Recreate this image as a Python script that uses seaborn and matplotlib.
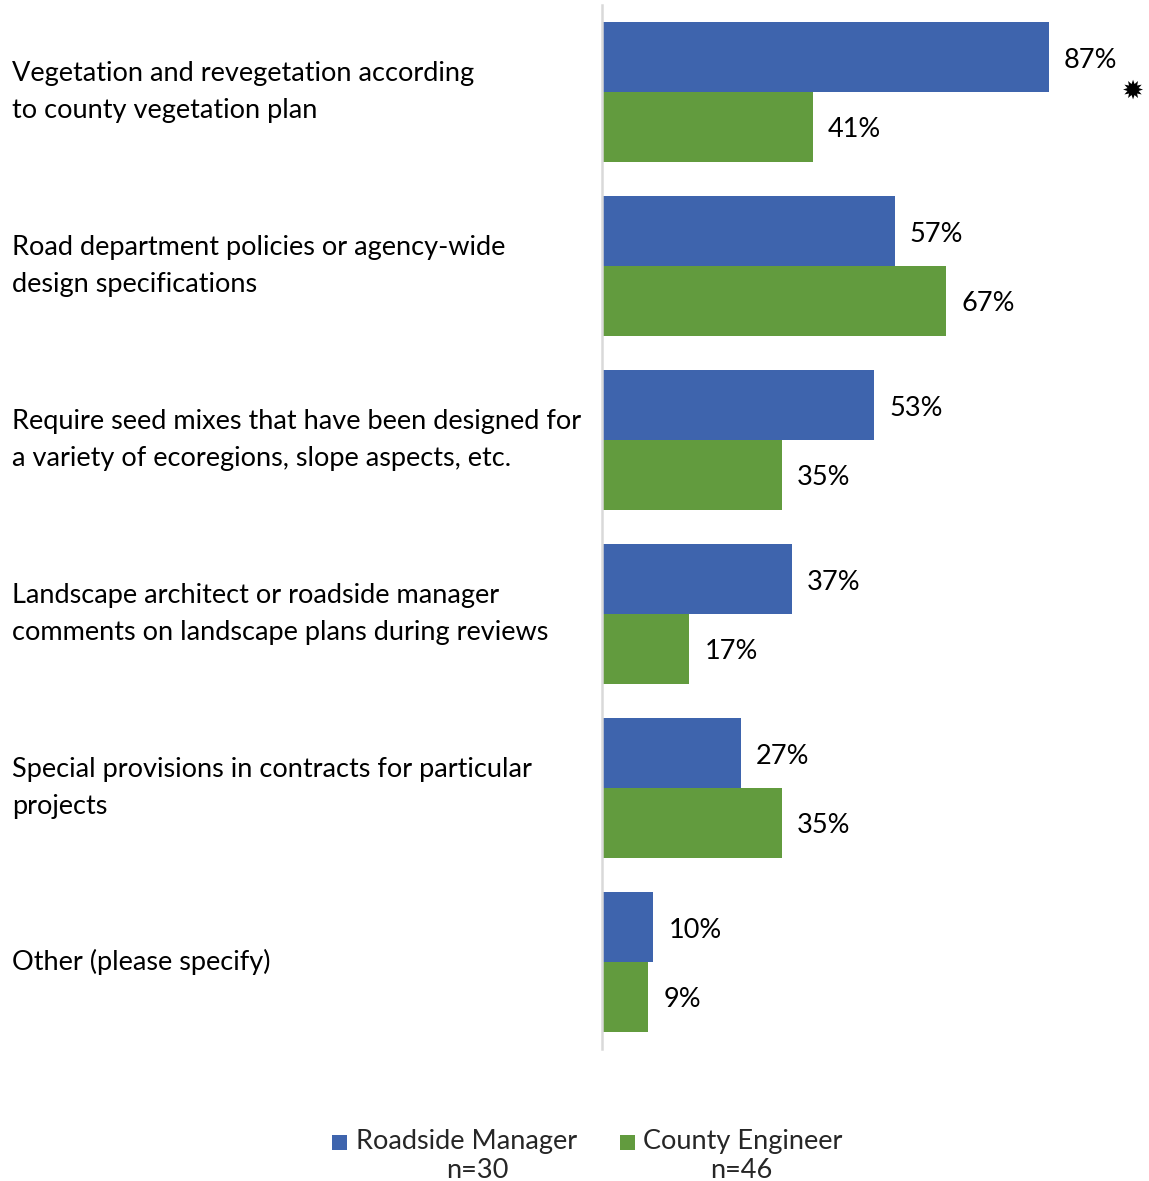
import matplotlib
matplotlib.use("Agg")
import matplotlib.pyplot as plt
import matplotlib.patches as mpatches
import matplotlib.transforms as mtransforms
import pandas as pd
import seaborn as sns

# Survey items (one per row of the chart)
categories = [
    "Vegetation and revegetation according\nto county vegetation plan",
    "Road department policies or agency-wide\ndesign specifications",
    "Require seed mixes that have been designed for\na variety of ecoregions, slope aspects, etc.",
    "Landscape architect or roadside manager\ncomments on landscape plans during reviews",
    "Special provisions in contracts for particular\nprojects",
    "Other (please specify)",
]
roadside_manager = [87, 57, 53, 37, 27, 10]
county_engineer = [41, 67, 35, 17, 35, 9]
series_names = ["Roadside Manager", "County Engineer"]
series_n = ["n=30", "n=46"]
colors = ["#3E64AD", "#629B3E"]
significant = [True, False, False, False, False, False]

df = pd.DataFrame({
    "item": categories * 2,
    "group": [series_names[0]] * len(categories) + [series_names[1]] * len(categories),
    "pct": roadside_manager + county_engineer,
})

sns.set_theme(style="white")
plt.rcParams["font.family"] = ["Lato", "DejaVu Sans"]

W, H = 1149, 1181
fig = plt.figure(figsize=(W / 100, H / 100), dpi=100)
ax = fig.add_axes([602 / W, 1 - 1049 / H, (1140 - 602) / W, (1049 - 5) / H])

sns.barplot(data=df, y="item", x="pct", hue="group", orient="h",
            palette=colors, width=0.8, saturation=1, legend=False,
            linewidth=0, ax=ax)

ax.set_xlim(0, 104.7)
ax.set_ylim(len(categories) - 0.5, -0.5)
ax.set_xlabel("")
ax.set_ylabel("")
ax.set_xticks([])
ax.set_yticks([])
for side in ["top", "right", "bottom"]:
    ax.spines[side].set_visible(False)
ax.spines["left"].set_color("#D9D9D9")
ax.spines["left"].set_linewidth(1.8)

fs = 19.5
# Value labels at the end of each bar
for container, vals in zip(ax.containers, [roadside_manager, county_engineer]):
    for bar, v in zip(container, vals):
        y = bar.get_y() + bar.get_height() / 2
        ax.annotate(f"{v}%", (bar.get_width(), y), xytext=(15, -3),
                    textcoords="offset pixels", ha="left", va="center",
                    fontsize=fs, color="black")

# Significance marker
for i, sig in enumerate(significant):
    if sig:
        ax.annotate("\u2739", (1133 / W, i), xycoords=("figure fraction", "data"),
                    ha="center", va="center", fontsize=19, color="black",
                    family=["DejaVu Sans"])

# Category labels, left-aligned at the figure edge
trans = mtransforms.blended_transform_factory(fig.transFigure, ax.transData)
for i, label in enumerate(categories):
    ax.text(12 / W, i, label, transform=trans, ha="left", va="center",
            fontsize=fs, linespacing=1.6, color="black")

# Legend
legend_items = [(332, 356, 477), (620, 643, 741)]
for (sx, tx, nx), name, n, c in zip(legend_items, series_names, series_n, colors):
    fig.patches.append(mpatches.Rectangle((sx / W, 1 - 1150 / H), 15 / W, 15 / H,
                                          transform=fig.transFigure,
                                          facecolor=c, edgecolor="none"))
    fig.text(tx / W, 1 - 1142 / H, name, ha="left", va="center", fontsize=fs)
    fig.text(nx / W, 1 - 1170 / H, n, ha="center", va="center", fontsize=fs)

fig.savefig("out.png", dpi=100)
